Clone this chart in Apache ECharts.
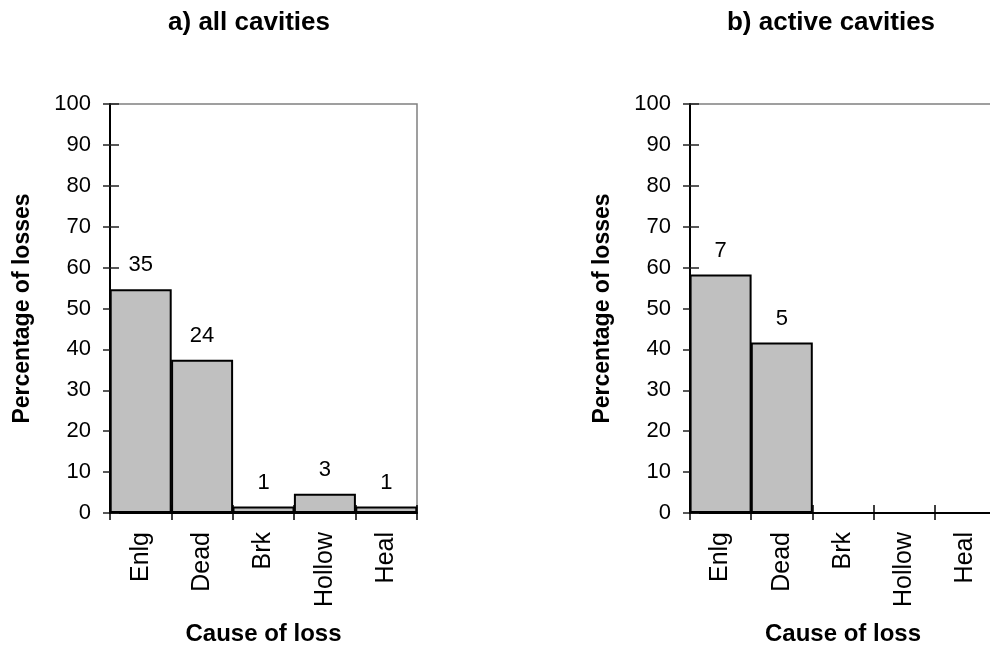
<!DOCTYPE html>
<html>
<head>
<meta charset="utf-8">
<script src="https://cdn.jsdelivr.net/npm/echarts@6/dist/echarts.min.js"></script>
<style>
  html, body { margin: 0; padding: 0; background: #fff; }
  #chart { width: 990px; height: 647px; }
</style>
</head>
<body>
<div id="chart"></div>
<script>
// categories and values
var causes = ['Enlg', 'Dead', 'Brk', 'Hollow', 'Heal'];
var allCounts = [35, 24, 1, 3, 1];
var allPct = [54.7, 37.5, 1.6, 4.7, 1.6];
var activeCounts = [7, 5, 0, 0, 0];
var activePct = [58.3, 41.7, 0, 0, 0];
var yTicks = [0, 10, 20, 30, 40, 50, 60, 70, 80, 90, 100];

var FONT = '"Liberation Sans", Arial, sans-serif';

var chart = echarts.init(document.getElementById('chart'));

function mainX(gi) {
    return {
        type: 'category', gridIndex: gi, position: 'bottom', data: causes,
        axisLine: { lineStyle: { color: '#000', width: 2 } },
        axisTick: { show: true, length: 7, lineStyle: { color: '#000', width: 1.5 } },
        axisLabel: { rotate: 90, margin: 19, color: '#000', fontSize: 25, fontFamily: FONT },
        name: 'Cause of loss', nameLocation: 'middle', nameGap: 109,
        nameTextStyle: { color: '#000', fontSize: 24, fontWeight: 'bold', fontFamily: FONT }
    };
}
function innerX(gi) {
    return {
        type: 'category', gridIndex: gi, position: 'bottom', data: causes,
        axisLine: { show: false },
        axisTick: { show: true, inside: true, length: 8, lineStyle: { color: '#000', width: 1.5 } },
        axisLabel: { show: false }
    };
}
function mainY(gi) {
    return {
        type: 'value', gridIndex: gi, position: 'left', min: yTicks[0], max: yTicks[yTicks.length - 1], interval: 10,
        axisLine: { show: true, lineStyle: { color: '#000', width: 2 } },
        axisTick: { show: true, length: 7, lineStyle: { color: '#222', width: 1.5 } },
        splitLine: { show: false },
        axisLabel: { margin: 19, color: '#000', fontSize: 22, fontFamily: FONT },
        name: 'Percentage of losses', nameLocation: 'middle', nameGap: 76,
        nameTextStyle: { color: '#000', fontSize: 23, fontWeight: 'bold', fontFamily: FONT }
    };
}
function innerY(gi) {
    return {
        type: 'value', gridIndex: gi, position: 'left', min: 0, max: 100, interval: 10,
        axisLine: { show: false },
        axisTick: { show: true, inside: true, length: 9, lineStyle: { color: '#222', width: 1.5 } },
        splitLine: { show: false },
        axisLabel: { show: false }
    };
}
function barSeries(xi, yi, pct, counts) {
    return {
        type: 'bar', xAxisIndex: xi, yAxisIndex: yi, data: pct,
        barWidth: 62, barCategoryGap: 0,
        itemStyle: { color: '#c0c0c0', borderColor: '#000', borderWidth: 2 },
        label: {
            show: true, position: 'top', distance: 13,
            color: '#000', fontSize: 22, fontFamily: FONT,
            formatter: function (p) { return counts[p.dataIndex] ? String(counts[p.dataIndex]) : ''; }
        }
    };
}

chart.setOption({
    animation: false,
    title: [
        { text: 'a) all cavities', left: 244, top: 5, textAlign: 'center',
          textStyle: { fontSize: 26, fontWeight: 'bold', color: '#000', fontFamily: FONT } },
        { text: 'b) active cavities', left: 826, top: 5, textAlign: 'center',
          textStyle: { fontSize: 26, fontWeight: 'bold', color: '#000', fontFamily: FONT } }
    ],
    grid: [
        { left: 110, top: 104, width: 307, height: 409, outerBoundsMode: 'none',
          show: true, borderColor: '#808080', borderWidth: 1.5 },
        { left: 690, top: 104, width: 306, height: 409, outerBoundsMode: 'none',
          show: true, borderColor: '#808080', borderWidth: 1.5 }
    ],
    xAxis: [mainX(0), innerX(0), mainX(1), innerX(1)],
    yAxis: [mainY(0), innerY(0), mainY(1), innerY(1)],
    series: [
        barSeries(0, 0, allPct, allCounts),
        barSeries(2, 2, activePct, activeCounts)
    ]
});

window.addEventListener('resize', function () { chart.resize(); });
</script>
</body>
</html>
